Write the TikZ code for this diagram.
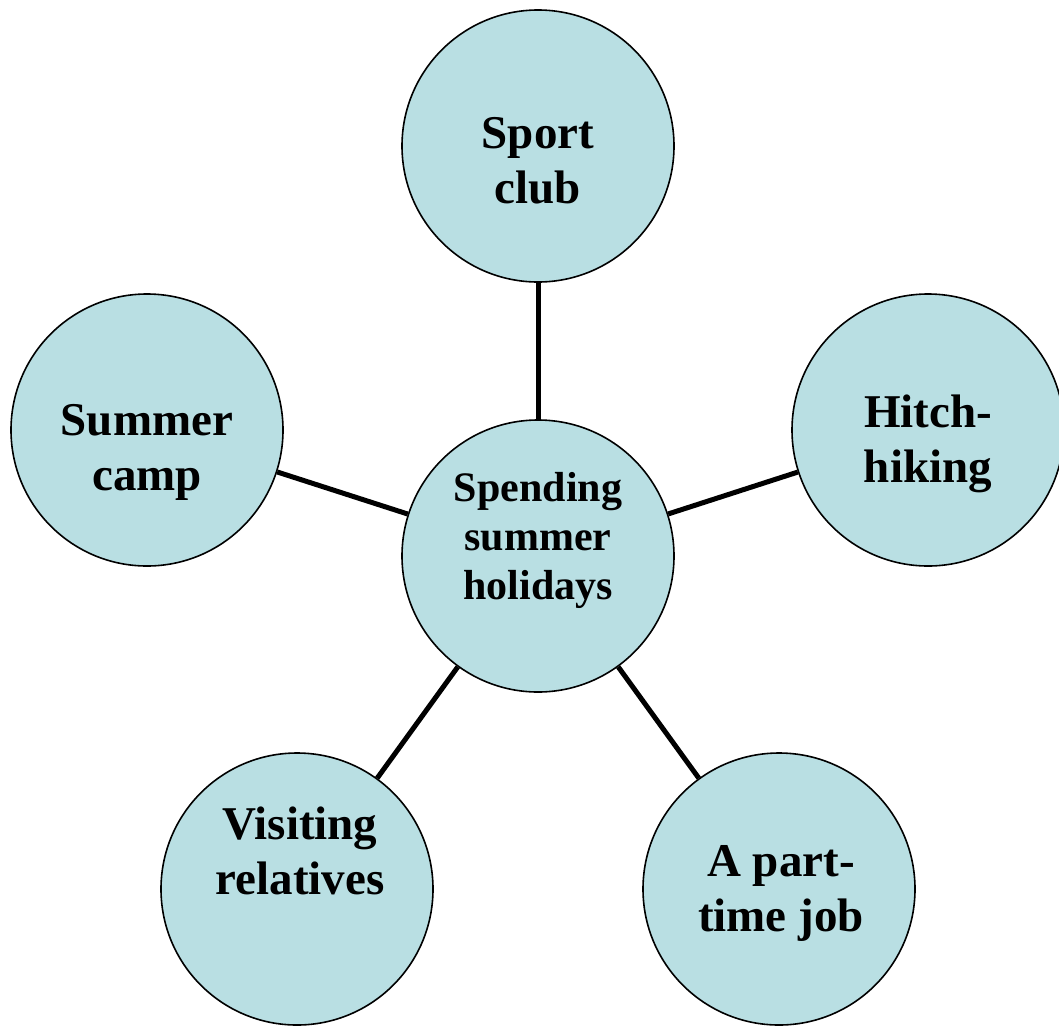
\documentclass[tikz,border=0pt]{standalone}
\usepackage{fontspec}
\setmainfont{Liberation Serif}
\definecolor{bubblefill}{RGB}{185,223,227}
\begin{document}
\begin{tikzpicture}[x=1pt,y=-1pt,
  bubble/.style={circle, draw=black, line width=1.6pt, fill=bubblefill, minimum size=272pt, inner sep=0pt},
  link/.style={line width=5pt, draw=black},
  outerlbl/.style={font=\fontsize{47}{55}\bfseries\selectfont, align=center, anchor=base},
  innerlbl/.style={font=\fontsize{42}{49}\bfseries\selectfont, align=center, anchor=base}]
\useasboundingbox (0,0) rectangle (1059,1026);
\node[bubble] (c) at (538,556) {};
\node[bubble] (sport) at (538,146) {};
\node[bubble] (hitch) at (928,430) {};
\node[bubble] (camp) at (147,430) {};
\node[bubble] (visit) at (297,889) {};
\node[bubble] (job) at (779,889) {};
\draw[link] (c) -- (sport);
\draw[link] (c) -- (hitch);
\draw[link] (c) -- (camp);
\draw[link] (c) -- (visit);
\draw[link] (c) -- (job);
\node[innerlbl] (tc) at (538,599) {Spending\\summer\\holidays};
\node[outerlbl] (tsport) at (538,203) {Sport\\club};
\node[outerlbl] (thitch) at (928,482) {Hitch-\\hiking};
\node[outerlbl] (tcamp) at (147,490) {Summer\\camp};
\node[outerlbl] (tvisit) at (300,894) {Visiting\\relatives};
\node[outerlbl] (tjob) at (781,931) {A part-\\time job};
\end{tikzpicture}
\end{document}
